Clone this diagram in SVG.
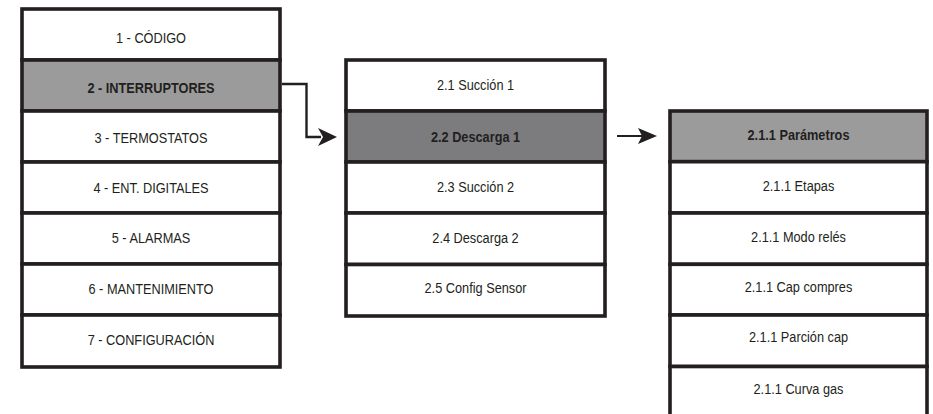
<svg xmlns="http://www.w3.org/2000/svg" width="933" height="414" viewBox="0 0 933 414">
  <style>
    .item { fill: #ffffff; stroke: #231f20; stroke-width: 3.6; }
    .sel { fill: #9b9b9b; }
    .sel-dark { fill: #7c7c7e; }
    text { font-family: "Liberation Sans", Arial, sans-serif; font-size: 15px; fill: #231f20; text-anchor: middle;
           transform-box: fill-box; transform-origin: center; transform: scaleX(0.85); }
    text.b { font-weight: bold; }
    .link { fill: none; stroke: #231f20; stroke-width: 2.4; }
    .head { fill: #231f20; }
  </style>

  <!-- main menu -->
  <g id="menu-main">
    <g id="m1"><rect class="item" x="22" y="9" width="258" height="51"/><text x="151" y="43.5">1 - CÓDIGO</text></g>
    <g id="m2"><rect class="item sel" x="22" y="60" width="258" height="51"/><text class="b" x="151" y="93.5">2 - INTERRUPTORES</text></g>
    <g id="m3"><rect class="item" x="22" y="111" width="258" height="51"/><text x="151" y="143">3 - TERMOSTATOS</text></g>
    <g id="m4"><rect class="item" x="22" y="162" width="258" height="51"/><text x="151" y="193.5">4 - ENT. DIGITALES</text></g>
    <g id="m5"><rect class="item" x="22" y="213" width="258" height="51"/><text x="151" y="243.5">5 - ALARMAS</text></g>
    <g id="m6"><rect class="item" x="22" y="264" width="258" height="51"/><text x="151" y="294.5">6 - MANTENIMIENTO</text></g>
    <g id="m7"><rect class="item" x="22" y="315" width="258" height="52"/><text x="151" y="345">7 - CONFIGURACIÓN</text></g>
  </g>

  <!-- switches submenu -->
  <g id="menu-switches">
    <g id="s1"><rect class="item" x="346" y="60" width="259" height="51"/><text x="475.5" y="90.5">2.1 Succión 1</text></g>
    <g id="s2"><rect class="item sel-dark" x="346" y="111" width="259" height="51"/><text class="b" x="475.5" y="142">2.2 Descarga 1</text></g>
    <g id="s3"><rect class="item" x="346" y="162" width="259" height="51"/><text x="475.5" y="192">2.3 Succión 2</text></g>
    <g id="s4"><rect class="item" x="346" y="213" width="259" height="51.5"/><text x="475.5" y="243">2.4 Descarga 2</text></g>
    <g id="s5"><rect class="item" x="346" y="264.5" width="259" height="51.5"/><text x="475.5" y="293">2.5 Config Sensor</text></g>
  </g>

  <!-- discharge parameters submenu -->
  <g id="menu-params">
    <g id="p1"><rect class="item sel" x="670" y="111" width="257" height="50.7"/><text class="b" x="798.5" y="140.5">2.1.1 Parámetros</text></g>
    <g id="p2"><rect class="item" x="670" y="161.7" width="257" height="51.3"/><text x="798.5" y="191">2.1.1 Etapas</text></g>
    <g id="p3"><rect class="item" x="670" y="213" width="257" height="51.3"/><text x="798.5" y="242">2.1.1 Modo relés</text></g>
    <g id="p4"><rect class="item" x="670" y="264.3" width="257" height="50.7"/><text x="798.5" y="292.5">2.1.1 Cap compres</text></g>
    <g id="p5"><rect class="item" x="670" y="315" width="257" height="51.5"/><text x="798.5" y="342.5">2.1.1 Parción cap</text></g>
    <g id="p6"><rect class="item" x="670" y="366.5" width="257" height="52"/><text x="798.5" y="394">2.1.1 Curva gas</text></g>
  </g>

  <!-- connectors -->
  <g id="connectors">
    <polyline class="link" points="282,84 306.5,84 306.5,137 321,137"/>
    <polygon class="head" points="337,137 318,128 323,137 318,146"/>
    <line class="link" x1="617" y1="136" x2="642" y2="136" style="stroke-width:2"/>
    <polygon class="head" points="657,136 638,128 642,136 638,144"/>
  </g>
</svg>
